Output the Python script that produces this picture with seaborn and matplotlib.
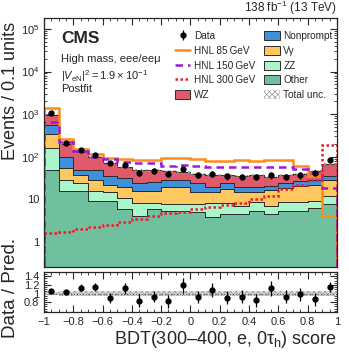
import numpy as np
import pandas as pd
import matplotlib
matplotlib.use("Agg")
import matplotlib.pyplot as plt
import seaborn as sns
from matplotlib.ticker import MultipleLocator, FuncFormatter, LogLocator, NullFormatter
from matplotlib.patches import Patch
from matplotlib.lines import Line2D

sns.set_style("ticks")
plt.rcParams["font.family"] = ["Liberation Sans", "DejaVu Sans"]
plt.rcParams["mathtext.fontset"] = "custom"
plt.rcParams["mathtext.rm"] = "Liberation Sans"
plt.rcParams["mathtext.it"] = "Liberation Sans:italic"
plt.rcParams["mathtext.bf"] = "Liberation Sans:bold"
plt.rcParams["hatch.linewidth"] = 0.5

# Binning of the BDT score
edges = [round(e, 2) for e in np.linspace(-1, 1, 21)]
centers = [-0.95, -0.85, -0.75, -0.65, -0.55, -0.45, -0.35, -0.25, -0.15, -0.05,
           0.05, 0.15, 0.25, 0.35, 0.45, 0.55, 0.65, 0.75, 0.85, 0.95]

# Background processes (events per bin)
other = [50, 15.6, 15.6, 9.1, 9.1, 5.8, 4.1, 5.8, 5.3, 5.3, 5.1, 3.8, 4.5, 4.5, 5.3, 4.5, 5.3, 5.3, 6.4, 7.6]
zz = [110, 13.4, 8.4, 6.9, 5.9, 5.2, 4.3, 2.6, 2.7, 2.7, 2.5, 4.6, 3.9, 2.5, 3.2, 2.5, 3.2, 3.2, 2.7, 4.2]
vgamma = [180, 26, 14, 13, 7, 9, 7.2, 7.2, 11.7, 11.7, 7.2, 6.4, 9.3, 7.8, 6.5, 9.5, 10.2, 12.5, 12.9, 17.2]
nonprompt = [210, 45, 12, 21, 13, 12, 8.9, 9.4, 9.3, 8.3, 9.7, 4.9, 6.8, 5.2, 5.0, 4.5, 5.8, 5.7, 7.0, 6.0]
wz = [420, 95, 80, 48, 37, 26, 25.5, 23, 17, 15, 15.5, 17.3, 13.5, 16, 18, 13, 12.5, 12.3, 17, 33]
rel_unc = [0.04, 0.05, 0.05, 0.05, 0.06, 0.06, 0.06, 0.06, 0.06, 0.06,
           0.06, 0.06, 0.06, 0.06, 0.06, 0.06, 0.06, 0.06, 0.06, 0.06]

# Signal hypotheses
hnl85 = [1400, 255, 150, 116, 95, 88, 85, 85, 95, 95, 88, 78, 78, 85, 80, 85, 85, 62, 36, 4.1]
hnl150 = [650, 225, 140, 100, 88, 76, 73, 73, 62, 65, 60, 59, 58, 57, 57, 57, 57, 53, 44, 19]
hnl300 = [1.6, 1.7, 2.0, 2.3, 2.5, 3.0, 3.5, 4.0, 4.8, 5.2, 5.9, 6.5, 7.4, 8.3, 10.5, 12, 18, 22, 29, 190]

# Observed data
data = [1040, 207, 145, 111, 71, 65, 42, 47, 40, 52, 38, 40, 35, 34, 34, 37, 34, 37, 42, 85]
data_err = [32, 14, 12, 10.5, 8.4, 8, 6.5, 6.9, 6.3, 7.2, 6.2, 6.3, 5.9, 5.8, 5.8, 6.1, 5.8, 6.1, 6.5, 9.2]
ratio = [1.07, 1.03, 1.14, 1.15, 0.90, 1.12, 0.83, 0.93, 0.82, 1.19,
         0.92, 1.08, 0.90, 0.93, 0.84, 1.12, 0.93, 0.98, 0.87, 1.15]
ratio_err = [0.03, 0.05, 0.08, 0.09, 0.12, 0.12, 0.15, 0.13, 0.15, 0.17,
             0.15, 0.16, 0.15, 0.16, 0.16, 0.17, 0.16, 0.16, 0.15, 0.12]

order = ["WZ", "Nonprompt", "V\u03b3", "ZZ", "Other"]
colors = {"WZ": "#e05a6b", "Nonprompt": "#3f90da", "V\u03b3": "#ffc75f",
          "ZZ": "#aaf5c9", "Other": "#70bf9e"}
values = {"WZ": wz, "Nonprompt": nonprompt, "V\u03b3": vgamma, "ZZ": zz, "Other": other}

rows = []
for name in order:
    for c, v in zip(centers, values[name]):
        rows.append((c, v, name))
df = pd.DataFrame(rows, columns=["score", "events", "process"])

fig = plt.figure(figsize=(3.49, 3.52), dpi=100)
ax = fig.add_axes([0.126, 0.2415, 0.8395, 0.7074])
rax = fig.add_axes([0.126, 0.1136, 0.8395, 0.1136])

sns.histplot(df, x="score", weights="events", hue="process", hue_order=order,
             multiple="stack", bins=edges, element="step", palette=colors,
             edgecolor="#2b2b2b", linewidth=0.7, alpha=1, legend=False, ax=ax)

total = np.array(wz) + np.array(nonprompt) + np.array(vgamma) + np.array(zz) + np.array(other)
unc = np.array(rel_unc)
ax.stairs(total * (1 + unc), edges, baseline=total * (1 - unc), fill=True,
          facecolor="none", edgecolor="#9a9a9a", hatch="xxxxxx", linewidth=0)

ax.stairs(hnl85, edges, color="#ff8c1a", lw=1.8)
ax.stairs(hnl150, edges, color="#9b1ad6", lw=1.8, ls=(0, (3, 2)))
ax.stairs(hnl300, edges, color="#ec1c2c", lw=1.8, ls=(0, (1, 1)))

data_h = ax.errorbar(centers, data, yerr=data_err, fmt="o", color="k", ms=3.5,
                     elinewidth=0.9, capsize=0)

ax.set_yscale("log")
ax.set_xlim(-1, 1)
ax.set_ylim(0.26, 1.8e5)


def log_fmt(v, pos):
    if v == 1:
        return "1"
    if v == 10:
        return "10"
    return r"$10^{%d}$" % round(np.log10(v))


ax.yaxis.set_major_locator(LogLocator(base=10, numticks=10))
ax.yaxis.set_minor_locator(LogLocator(base=10, subs=np.arange(2, 10), numticks=20))
ax.yaxis.set_major_formatter(FuncFormatter(log_fmt))
ax.yaxis.set_minor_formatter(NullFormatter())
ax.xaxis.set_major_locator(MultipleLocator(0.2))
ax.xaxis.set_minor_locator(MultipleLocator(0.05))
ax.tick_params(axis="x", labelbottom=False)
ax.set_xlabel("")
ax.set_ylabel("Events / 0.1 units", loc="top", fontsize=13)
ax.yaxis.set_label_coords(-0.085, 0.985)

for a in (ax, rax):
    a.tick_params(which="both", direction="in", top=True, right=True, labelsize=8)
    a.tick_params(which="major", length=5, width=0.8)
    a.tick_params(which="minor", length=2.5, width=0.6)
    for s in a.spines.values():
        s.set_linewidth(0.9)

# Ratio panel
rax.stairs(1 + unc, edges, baseline=1 - unc, fill=True, facecolor="#dcdcdc",
           edgecolor="#9a9a9a", hatch="xxxxxx", linewidth=0)
rax.axhline(1, color="#555555", ls=":", lw=0.8)
rax.errorbar(centers, ratio, yerr=ratio_err, fmt="o", color="k", ms=3.5,
             elinewidth=0.9, capsize=0)
rax.set_xlim(-1, 1)
rax.set_ylim(0.57, 1.5)
rax.set_yticks([0.8, 1.0, 1.2, 1.4])
rax.yaxis.set_minor_locator(MultipleLocator(0.05))
rax.xaxis.set_major_locator(MultipleLocator(0.2))
rax.xaxis.set_minor_locator(MultipleLocator(0.05))
rax.xaxis.set_major_formatter(FuncFormatter(lambda v, p: ("%g" % round(v, 2)).replace("-", "\u2212")))
rax.yaxis.set_major_formatter(FuncFormatter(lambda v, p: "%g" % round(v, 2)))
rax.set_ylabel("Data / Pred.", fontsize=13.5)
rax.yaxis.set_label_coords(-0.085, 0.6)
rax.set_xlabel("BDT(300\u2013400, e, 0\u03c4$_\\mathrm{h}$) score", loc="right", fontsize=13)
rax.xaxis.set_label_coords(1.0, -0.42)

# Labels
ax.text(0.058, 0.916, "CMS", transform=ax.transAxes, fontsize=12.5,
        fontweight="bold", va="center", ha="left")
ax.text(0.058, 0.835, "High mass, eee/ee\u03bc", transform=ax.transAxes,
        fontsize=8, va="center", ha="left")
ax.text(0.058, 0.767, r"$|V_{\mathrm{eN}}|^2 = 1.9\times10^{-1}$",
        transform=ax.transAxes, fontsize=8, va="center", ha="left")
ax.text(0.058, 0.713, "Postfit", transform=ax.transAxes, fontsize=8,
        va="center", ha="left")
ax.text(1.0, 1.003, r"138 fb$^{-1}$ (13 TeV)", transform=ax.transAxes,
        fontsize=8.5, va="bottom", ha="right")

# Legend
handles = [
    data_h,
    Line2D([], [], color="#ff8c1a", lw=1.8),
    Line2D([], [], color="#9b1ad6", lw=1.8, ls=(0, (3, 2))),
    Line2D([], [], color="#ec1c2c", lw=1.8, ls=(0, (1, 1))),
    Patch(facecolor=colors["WZ"], edgecolor="#2b2b2b", lw=0.7),
    Patch(facecolor=colors["Nonprompt"], edgecolor="#2b2b2b", lw=0.7),
    Patch(facecolor=colors["V\u03b3"], edgecolor="#2b2b2b", lw=0.7),
    Patch(facecolor=colors["ZZ"], edgecolor="#2b2b2b", lw=0.7),
    Patch(facecolor=colors["Other"], edgecolor="#2b2b2b", lw=0.7),
    Patch(facecolor="white", edgecolor="#9a9a9a", hatch="xxxxxx", lw=0),
]
labels = ["Data", "HNL 85\u2009GeV", "HNL 150\u2009GeV", "HNL 300\u2009GeV", "WZ",
          "Nonprompt", "V\u03b3", "ZZ", "Other", "Total unc."]
ax.legend(handles, labels, ncol=2, loc="upper left", bbox_to_anchor=(0.447, 0.948),
          frameon=False, fontsize=7.2, borderpad=0, borderaxespad=0,
          handlelength=1.55, handleheight=1.0, handletextpad=0.35,
          labelspacing=0.48, columnspacing=0.9)

fig.savefig("out.png", dpi=100)
